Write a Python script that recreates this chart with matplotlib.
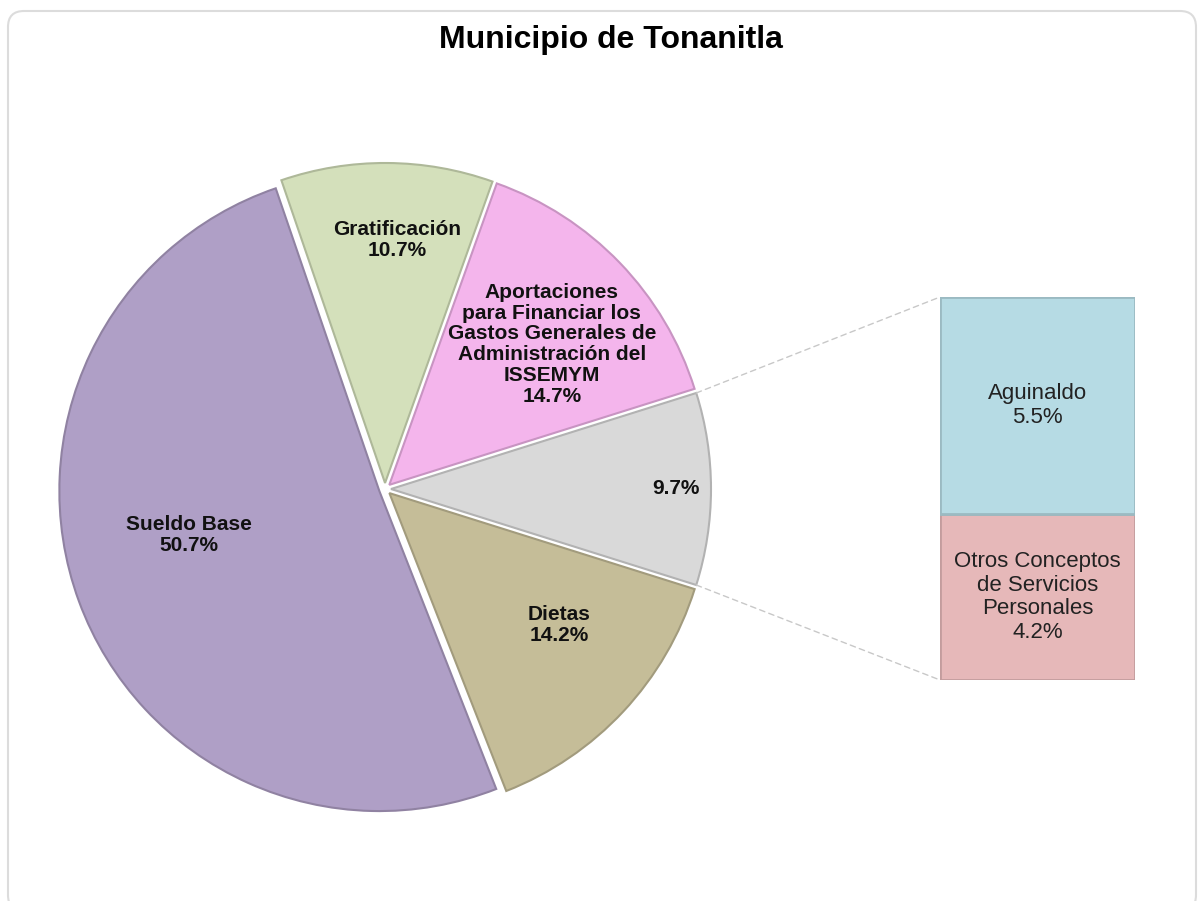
import matplotlib
matplotlib.use('Agg')
import matplotlib.pyplot as plt
import matplotlib.colors as mcolors
from matplotlib.patches import FancyBboxPatch, ConnectionPatch
import numpy as np

# Chart data (pie order is counter-clockwise, starting with the grouped slice)
title = 'Municipio de Tonanitla'
pie_labels = ['',
              'Aportaciones\npara Financiar los\nGastos Generales de\nAdministración del\nISSEMYM',
              'Gratificación', 'Sueldo Base', 'Dietas']
pie_values = [9.7, 14.7, 10.7, 50.7, 14.2]
pie_colors = ['#D9D9D9', '#F4B5EC', '#D4E0BB', '#AF9FC6', '#C5BD98']

bar_labels = ['Otros Conceptos\nde Servicios\nPersonales', 'Aguinaldo']
bar_values = [4.2, 5.5]
bar_colors = ['#E6B8B9', '#B6DBE4']

plt.rcParams['font.family'] = ['Liberation Sans', 'DejaVu Sans']

W, H = 1203, 901
fig = plt.figure(figsize=(W / 100, H / 100), dpi=100)
ax = fig.add_axes([0, 0, 1, 1])

# rounded outer frame
frame = FancyBboxPatch((8, -10), W - 15, H - 1, boxstyle='round,pad=0,rounding_size=16',
                       facecolor='white', edgecolor='#DCDCDC', linewidth=1.5, zorder=0)
ax.add_patch(frame)

# pie
start = -pie_values[0] / sum(pie_values) * 180
wedges, _ = ax.pie(pie_values, colors=pie_colors, startangle=start,
                   center=(385, 412), radius=320, explode=[6] * len(pie_values),
                   wedgeprops=dict(linewidth=1.5))
for w, c in zip(wedges, pie_colors):
    w.set_edgecolor(np.array(mcolors.to_rgb(c)) * 0.82)

ax.set_xlim(0, W)
ax.set_ylim(0, H)
ax.axis('off')

# slice labels: (radius fraction, angle offset in degrees)
label_place = [(0.91, 0), (0.69, -3), (0.78, -2.5), (0.63, -7), (0.69, 5)]
for w, lab, v, (rf, off) in zip(wedges, pie_labels, pie_values, label_place):
    ang = np.radians((w.theta1 + w.theta2) / 2 + off)
    x = 385 + rf * w.r * np.cos(ang)
    y = 412 + rf * w.r * np.sin(ang)
    txt = f'{lab}\n{v}%' if lab else f'{v}%'
    ax.text(x, y, txt, ha='center', va='center', fontsize=15, fontweight='bold',
            linespacing=1.12, color='#111111')

ax.text(W / 2 + 9, H - 40, title, ha='center', va='center', fontsize=23,
        fontweight='bold', color='black')

# stacked bar for the grouped slice
bx = fig.add_axes([940 / W, (H - 680) / H, 195 / W, 383 / H])
bottom = 0
for lab, v, c in zip(bar_labels, bar_values, bar_colors):
    bx.bar(0, v, bottom=bottom, width=1, color=c,
           edgecolor=np.array(mcolors.to_rgb(c)) * 0.85, linewidth=2)
    bx.text(0, bottom + v / 2, f'{lab}\n{v}%', ha='center', va='center',
            fontsize=16, linespacing=1.15, color='#222222')
    bottom += v
bx.set_xlim(-0.5, 0.5)
bx.set_ylim(0, sum(bar_values))
bx.axis('off')

# dashed connectors from the grey slice to the bar
g = wedges[0]
gx, gy = g.center
for th, yb in [(g.theta2, sum(bar_values)), (g.theta1, 0)]:
    p = (gx + g.r * np.cos(np.radians(th)), gy + g.r * np.sin(np.radians(th)))
    con = ConnectionPatch(xyA=p, coordsA=ax.transData, xyB=(-0.5, yb), coordsB=bx.transData,
                          linestyle=(0, (4, 3)), color='#C8C8C8', linewidth=1)
    fig.add_artist(con)

fig.savefig('out.png', dpi=100)
